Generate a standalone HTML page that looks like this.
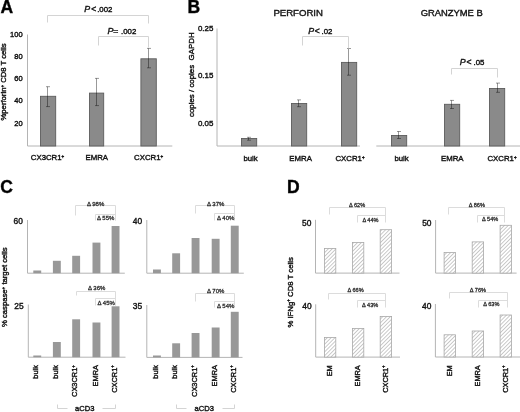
<!DOCTYPE html>
<html><head><meta charset="utf-8"><style>
html,body{margin:0;padding:0;background:#fff;}
body{width:520px;height:412px;overflow:hidden;}
svg{display:block;font-family:"Liberation Sans", sans-serif;filter:grayscale(1);}
text{stroke:#111;stroke-width:.4px;}
</style></head><body>
<svg width="520" height="412" viewBox="0 0 520 412">
<rect width="520" height="412" fill="#fff"/>
<text x="0.6" y="12.6" font-size="17.5" text-anchor="start" font-weight="bold"  fill="#000" >A</text>
<text x="187.6" y="12.6" font-size="17.5" text-anchor="start" font-weight="bold"  fill="#000" >B</text>
<text x="0.2" y="192.6" font-size="17.5" text-anchor="start" font-weight="bold"  fill="#000" >C</text>
<text x="287.0" y="192.7" font-size="17.5" text-anchor="start" font-weight="bold"  fill="#000" >D</text>
<line x1="27.5" y1="34.5" x2="27.5" y2="146" stroke="#b4b4b4" stroke-width="1"/>
<line x1="27.5" y1="146" x2="172.3" y2="146" stroke="#b4b4b4" stroke-width="1"/>
<text x="22.6" y="36.7" font-size="7.5" text-anchor="end" font-weight="normal"  fill="#1a1a1a" >100</text>
<text x="22.6" y="58.7" font-size="7.5" text-anchor="end" font-weight="normal"  fill="#1a1a1a" >80</text>
<text x="22.6" y="81.1" font-size="7.5" text-anchor="end" font-weight="normal"  fill="#1a1a1a" >60</text>
<text x="22.6" y="102.8" font-size="7.5" text-anchor="end" font-weight="normal"  fill="#1a1a1a" >40</text>
<text x="22.6" y="125.8" font-size="7.5" text-anchor="end" font-weight="normal"  fill="#1a1a1a" >20</text>
<rect x="40.5" y="96.3" width="15.2" height="49.7" fill="#8a8a8a" stroke="#5c5c5c" stroke-width="0.9"/>
<path d="M47.5,86.7 V106.6 M46.0,86.7 H50.0 M46.0,106.6 H50.0" stroke="#000" stroke-opacity="0.4" stroke-width="1" fill="none"/>
<rect x="89.5" y="93.1" width="14.2" height="52.900000000000006" fill="#8a8a8a" stroke="#5c5c5c" stroke-width="0.9"/>
<path d="M96.5,78.4 V105.6 M95.0,78.4 H99.0 M95.0,105.6 H99.0" stroke="#000" stroke-opacity="0.4" stroke-width="1" fill="none"/>
<rect x="140.9" y="58.8" width="15.4" height="87.2" fill="#8a8a8a" stroke="#5c5c5c" stroke-width="0.9"/>
<path d="M148.5,48.4 V67.8 M147.0,48.4 H151.0 M147.0,67.8 H151.0" stroke="#000" stroke-opacity="0.4" stroke-width="1" fill="none"/>
<path d="M47.5,22.5 V15.5 H148.5 V23.5" stroke="#d4d4d4" stroke-width="1" fill="none"/>
<path d="M98.5,45.5 V36.5 H148.5 V47.5" stroke="#d4d4d4" stroke-width="1" fill="none"/>
<text x="84.3" y="12.4" font-size="8.8" text-anchor="start" font-weight="normal" font-style="italic" fill="#1a1a1a" >P</text>
<text x="91.3" y="12.1" font-size="8.6" text-anchor="start" font-weight="normal"  fill="#1a1a1a" >&lt;</text>
<text x="112.4" y="12.0" font-size="7.8" text-anchor="end" font-weight="normal"  fill="#1a1a1a" >.002</text>
<text x="107.39999999999999" y="34.3" font-size="8.8" text-anchor="start" font-weight="normal" font-style="italic" fill="#1a1a1a" >P</text>
<text x="113.3" y="34.0" font-size="8.6" text-anchor="start" font-weight="normal"  fill="#1a1a1a" >=</text>
<text x="136.3" y="33.9" font-size="7.8" text-anchor="end" font-weight="normal"  fill="#1a1a1a" >.002</text>
<text x="47.5" y="160.0" font-size="7.8" text-anchor="middle" font-weight="normal"  fill="#1a1a1a" >CX3CR1<tspan font-size="4.5" dy="-2.5">+</tspan><tspan dy="2.5"></tspan></text>
<text x="96.8" y="160.0" font-size="7.8" text-anchor="middle" font-weight="normal"  fill="#1a1a1a" >EMRA</text>
<text x="148.6" y="160.0" font-size="7.8" text-anchor="middle" font-weight="normal"  fill="#1a1a1a" >CXCR1<tspan font-size="4.5" dy="-2.5">+</tspan><tspan dy="2.5"></tspan></text>
<text transform="translate(6.3,120.5) rotate(-90)" font-size="7.7" text-anchor="start" fill="#1a1a1a" >%perforin<tspan font-size="4.5" dy="-2.5">+</tspan><tspan dy="2.5"> </tspan>CD8 T cells</text>
<line x1="217" y1="28.5" x2="217" y2="146" stroke="#b4b4b4" stroke-width="1"/>
<line x1="217" y1="146" x2="360" y2="146" stroke="#b4b4b4" stroke-width="1"/>
<line x1="376.3" y1="146" x2="520" y2="146" stroke="#b4b4b4" stroke-width="1"/>
<text x="213.3" y="31.2" font-size="7.9" text-anchor="end" font-weight="normal"  fill="#1a1a1a" >0.25</text>
<text x="213.3" y="77.8" font-size="7.9" text-anchor="end" font-weight="normal"  fill="#1a1a1a" >0.15</text>
<text x="213.3" y="126.2" font-size="7.9" text-anchor="end" font-weight="normal"  fill="#1a1a1a" >0.05</text>
<rect x="241.5" y="138.5" width="15.2" height="7.5" fill="#8a8a8a" stroke="#5c5c5c" stroke-width="0.9"/>
<path d="M248.5,137.3 V140.2 M247.0,137.3 H251.0 M247.0,140.2 H251.0" stroke="#000" stroke-opacity="0.4" stroke-width="1" fill="none"/>
<rect x="291.5" y="103.5" width="15.2" height="42.5" fill="#8a8a8a" stroke="#5c5c5c" stroke-width="0.9"/>
<path d="M298.5,99.9 V106.7 M297.0,99.9 H301.0 M297.0,106.7 H301.0" stroke="#000" stroke-opacity="0.4" stroke-width="1" fill="none"/>
<rect x="341.5" y="62.4" width="15.2" height="83.6" fill="#8a8a8a" stroke="#5c5c5c" stroke-width="0.9"/>
<path d="M348.5,48.5 V75.2 M347.0,48.5 H351.0 M347.0,75.2 H351.0" stroke="#000" stroke-opacity="0.4" stroke-width="1" fill="none"/>
<rect x="391.5" y="135.5" width="15.2" height="10.5" fill="#8a8a8a" stroke="#5c5c5c" stroke-width="0.9"/>
<path d="M398.5,131.5 V138.5 M397.0,131.5 H401.0 M397.0,138.5 H401.0" stroke="#000" stroke-opacity="0.4" stroke-width="1" fill="none"/>
<rect x="444.5" y="104.3" width="15.2" height="41.7" fill="#8a8a8a" stroke="#5c5c5c" stroke-width="0.9"/>
<path d="M451.5,100.4 V108.5 M450.0,100.4 H454.0 M450.0,108.5 H454.0" stroke="#000" stroke-opacity="0.4" stroke-width="1" fill="none"/>
<rect x="489.5" y="88.5" width="15.2" height="57.5" fill="#8a8a8a" stroke="#5c5c5c" stroke-width="0.9"/>
<path d="M497.5,83.1 V92.3 M496.0,83.1 H500.0 M496.0,92.3 H500.0" stroke="#000" stroke-opacity="0.4" stroke-width="1" fill="none"/>
<text x="273.4" y="15.9" font-size="9.6" text-anchor="start" font-weight="normal"  fill="#1a1a1a" >PERFORIN</text>
<text x="420.7" y="15.9" font-size="9.4" text-anchor="start" font-weight="normal"  fill="#1a1a1a" >GRANZYME B</text>
<path d="M302.5,45.5 V36.5 H348.5 V48.5" stroke="#d4d4d4" stroke-width="1" fill="none"/>
<path d="M451.5,74.5 V68.5 H497.5 V77.5" stroke="#d4d4d4" stroke-width="1" fill="none"/>
<text x="308.20000000000005" y="34.2" font-size="8.8" text-anchor="start" font-weight="normal" font-style="italic" fill="#1a1a1a" >P</text>
<text x="314.8" y="33.900000000000006" font-size="8.6" text-anchor="start" font-weight="normal"  fill="#1a1a1a" >&lt;</text>
<text x="332.4" y="33.800000000000004" font-size="7.8" text-anchor="end" font-weight="normal"  fill="#1a1a1a" >.02</text>
<text x="459.8" y="65.4" font-size="8.8" text-anchor="start" font-weight="normal" font-style="italic" fill="#1a1a1a" >P</text>
<text x="466.40000000000003" y="65.10000000000001" font-size="8.6" text-anchor="start" font-weight="normal"  fill="#1a1a1a" >&lt;</text>
<text x="484.4" y="65.0" font-size="7.8" text-anchor="end" font-weight="normal"  fill="#1a1a1a" >.05</text>
<text x="250.6" y="161.3" font-size="7.8" text-anchor="middle" font-weight="normal"  fill="#1a1a1a" >bulk</text>
<text x="300.6" y="161.3" font-size="7.8" text-anchor="middle" font-weight="normal"  fill="#1a1a1a" >EMRA</text>
<text x="350.0" y="161.3" font-size="7.8" text-anchor="middle" font-weight="normal"  fill="#1a1a1a" >CXCR1<tspan font-size="4.5" dy="-2.5">+</tspan><tspan dy="2.5"></tspan></text>
<text x="401.6" y="161.3" font-size="7.8" text-anchor="middle" font-weight="normal"  fill="#1a1a1a" >bulk</text>
<text x="452.3" y="161.3" font-size="7.8" text-anchor="middle" font-weight="normal"  fill="#1a1a1a" >EMRA</text>
<text x="502.0" y="161.3" font-size="7.8" text-anchor="middle" font-weight="normal"  fill="#1a1a1a" >CXCR1<tspan font-size="4.5" dy="-2.5">+</tspan><tspan dy="2.5"></tspan></text>
<text transform="translate(193.8,117.0) rotate(-90)" font-size="7.9" text-anchor="start" fill="#1a1a1a" >copies / copies&#160; GAPDH</text>
<line x1="27.5" y1="220" x2="27.5" y2="273.2" stroke="#b4b4b4" stroke-width="1"/>
<line x1="27.5" y1="273.2" x2="124.8" y2="273.2" stroke="#b4b4b4" stroke-width="1"/>
<text x="22.9" y="223.7" font-size="8.4" text-anchor="end" font-weight="normal"  fill="#1a1a1a" >60</text>
<rect x="33.3" y="270.5" width="7.9" height="2.6999999999999886" fill="#989898" stroke="none" stroke-width="1"/>
<rect x="52.9" y="260.8" width="7.9" height="12.399999999999977" fill="#989898" stroke="none" stroke-width="1"/>
<rect x="72.2" y="255.8" width="7.9" height="17.399999999999977" fill="#989898" stroke="none" stroke-width="1"/>
<rect x="92.5" y="242.6" width="7.9" height="30.599999999999994" fill="#989898" stroke="none" stroke-width="1"/>
<rect x="111.6" y="226.0" width="7.9" height="47.19999999999999" fill="#989898" stroke="none" stroke-width="1"/>
<line x1="146.8" y1="220" x2="146.8" y2="273.2" stroke="#b4b4b4" stroke-width="1"/>
<line x1="146.8" y1="273.2" x2="243.8" y2="273.2" stroke="#b4b4b4" stroke-width="1"/>
<text x="142.20000000000002" y="223.6" font-size="8.4" text-anchor="end" font-weight="normal"  fill="#1a1a1a" >40</text>
<rect x="153.0" y="269.5" width="7.9" height="3.6999999999999886" fill="#989898" stroke="none" stroke-width="1"/>
<rect x="172.2" y="253.3" width="7.9" height="19.899999999999977" fill="#989898" stroke="none" stroke-width="1"/>
<rect x="191.6" y="238.0" width="7.9" height="35.19999999999999" fill="#989898" stroke="none" stroke-width="1"/>
<rect x="211.7" y="238.8" width="7.9" height="34.39999999999998" fill="#989898" stroke="none" stroke-width="1"/>
<rect x="230.8" y="225.7" width="7.9" height="47.5" fill="#989898" stroke="none" stroke-width="1"/>
<line x1="28.3" y1="304.5" x2="28.3" y2="357.2" stroke="#b4b4b4" stroke-width="1"/>
<line x1="28.3" y1="357.2" x2="125.5" y2="357.2" stroke="#b4b4b4" stroke-width="1"/>
<text x="23.700000000000003" y="308.59999999999997" font-size="8.4" text-anchor="end" font-weight="normal"  fill="#1a1a1a" >25</text>
<rect x="33.3" y="355.5" width="7.9" height="1.6999999999999886" fill="#989898" stroke="none" stroke-width="1"/>
<rect x="52.9" y="342.0" width="7.9" height="15.199999999999989" fill="#989898" stroke="none" stroke-width="1"/>
<rect x="72.2" y="319.3" width="7.9" height="37.89999999999998" fill="#989898" stroke="none" stroke-width="1"/>
<rect x="92.5" y="322.5" width="7.9" height="34.69999999999999" fill="#989898" stroke="none" stroke-width="1"/>
<rect x="111.6" y="306.3" width="7.9" height="50.89999999999998" fill="#989898" stroke="none" stroke-width="1"/>
<line x1="146.8" y1="305" x2="146.8" y2="357.4" stroke="#b4b4b4" stroke-width="1"/>
<line x1="146.8" y1="357.4" x2="242.5" y2="357.4" stroke="#b4b4b4" stroke-width="1"/>
<text x="142.20000000000002" y="308.59999999999997" font-size="8.4" text-anchor="end" font-weight="normal"  fill="#1a1a1a" >35</text>
<rect x="153.0" y="355.5" width="7.9" height="1.8999999999999773" fill="#989898" stroke="none" stroke-width="1"/>
<rect x="172.2" y="343.3" width="7.9" height="14.099999999999966" fill="#989898" stroke="none" stroke-width="1"/>
<rect x="191.6" y="333.0" width="7.9" height="24.399999999999977" fill="#989898" stroke="none" stroke-width="1"/>
<rect x="211.7" y="327.5" width="7.9" height="29.899999999999977" fill="#989898" stroke="none" stroke-width="1"/>
<rect x="230.8" y="311.8" width="7.9" height="45.599999999999966" fill="#989898" stroke="none" stroke-width="1"/>
<path d="M75.5,215.5 V205.5 H115.5 V220.5" stroke="#dcdcdc" stroke-width="1" fill="none"/>
<text x="86.9" y="205.6" font-size="6" text-anchor="start" font-weight="normal"  fill="#2a2a2a" style="stroke-width:0.26px;stroke:#2a2a2a">&#916; 98%</text>
<path d="M95.5,220.5 V214.5 H115.5 V220.5" stroke="#dcdcdc" stroke-width="1" fill="none"/>
<text x="97.0" y="219.9" font-size="6" text-anchor="start" font-weight="normal"  fill="#2a2a2a" style="stroke-width:0.26px;stroke:#2a2a2a">&#916; 55%</text>
<path d="M195.5,213.5 V205.5 H234.5 V220.5" stroke="#dcdcdc" stroke-width="1" fill="none"/>
<text x="207.0" y="205.6" font-size="6" text-anchor="start" font-weight="normal"  fill="#2a2a2a" style="stroke-width:0.26px;stroke:#2a2a2a">&#916; 37%</text>
<path d="M214.5,220.5 V213.5 H234.5 V220.5" stroke="#dcdcdc" stroke-width="1" fill="none"/>
<text x="217.0" y="220.0" font-size="6" text-anchor="start" font-weight="normal"  fill="#2a2a2a" style="stroke-width:0.26px;stroke:#2a2a2a">&#916; 40%</text>
<path d="M76.5,295.5 V291.5 H115.5 V305.5" stroke="#dcdcdc" stroke-width="1" fill="none"/>
<text x="88.0" y="290.0" font-size="6" text-anchor="start" font-weight="normal"  fill="#2a2a2a" style="stroke-width:0.26px;stroke:#2a2a2a">&#916; 36%</text>
<path d="M95.5,305.5 V298.5 H115.5 V305.5" stroke="#dcdcdc" stroke-width="1" fill="none"/>
<text x="97.5" y="304.5" font-size="6" text-anchor="start" font-weight="normal"  fill="#2a2a2a" style="stroke-width:0.26px;stroke:#2a2a2a">&#916; 45%</text>
<path d="M195.5,301.5 V293.5 H234.5 V305.5" stroke="#dcdcdc" stroke-width="1" fill="none"/>
<text x="207.0" y="293.4" font-size="6" text-anchor="start" font-weight="normal"  fill="#2a2a2a" style="stroke-width:0.26px;stroke:#2a2a2a">&#916; 70%</text>
<path d="M214.5,307.5 V301.5 H234.5 V307.5" stroke="#dcdcdc" stroke-width="1" fill="none"/>
<text x="217.0" y="307.5" font-size="6" text-anchor="start" font-weight="normal"  fill="#2a2a2a" style="stroke-width:0.26px;stroke:#2a2a2a">&#916; 54%</text>
<text transform="translate(38.4,365.1) rotate(-90)" font-size="7.4" text-anchor="end" fill="#1a1a1a" >bulk</text>
<text transform="translate(58.0,365.1) rotate(-90)" font-size="7.4" text-anchor="end" fill="#1a1a1a" >bulk</text>
<text transform="translate(77.3,365.1) rotate(-90)" font-size="7.4" text-anchor="end" fill="#1a1a1a" >CX3CR1<tspan font-size="4.5" dy="-2.5">+</tspan><tspan dy="2.5"></tspan></text>
<text transform="translate(97.6,365.1) rotate(-90)" font-size="7.4" text-anchor="end" fill="#1a1a1a" >EMRA</text>
<text transform="translate(116.69999999999999,365.1) rotate(-90)" font-size="7.4" text-anchor="end" fill="#1a1a1a" >CXCR1<tspan font-size="4.5" dy="-2.5">+</tspan><tspan dy="2.5"></tspan></text>
<text transform="translate(158.1,365.1) rotate(-90)" font-size="7.4" text-anchor="end" fill="#1a1a1a" >bulk</text>
<text transform="translate(177.29999999999998,365.1) rotate(-90)" font-size="7.4" text-anchor="end" fill="#1a1a1a" >bulk</text>
<text transform="translate(196.7,365.1) rotate(-90)" font-size="7.4" text-anchor="end" fill="#1a1a1a" >CX3CR1<tspan font-size="4.5" dy="-2.5">+</tspan><tspan dy="2.5"></tspan></text>
<text transform="translate(216.79999999999998,365.1) rotate(-90)" font-size="7.4" text-anchor="end" fill="#1a1a1a" >EMRA</text>
<text transform="translate(235.9,365.1) rotate(-90)" font-size="7.4" text-anchor="end" fill="#1a1a1a" >CXCR1<tspan font-size="4.5" dy="-2.5">+</tspan><tspan dy="2.5"></tspan></text>
<path d="M57.5,404.5 V408.5 H67.5" stroke="#d4d4d4" stroke-width="1" fill="none"/>
<path d="M102.5,408.5 H115.5 V404.5" stroke="#d4d4d4" stroke-width="1" fill="none"/>
<text x="84.8" y="411.0" font-size="7.6" text-anchor="middle" font-weight="normal"  fill="#1a1a1a" >aCD3</text>
<path d="M176.5,404.5 V408.5 H186.5" stroke="#d4d4d4" stroke-width="1" fill="none"/>
<path d="M222.5,408.5 H234.5 V404.5" stroke="#d4d4d4" stroke-width="1" fill="none"/>
<text x="204.3" y="411.0" font-size="7.6" text-anchor="middle" font-weight="normal"  fill="#1a1a1a" >aCD3</text>
<text transform="translate(7.0,327.0) rotate(-90)" font-size="7.7" text-anchor="start" fill="#1a1a1a" >% caspase<tspan font-size="4.5" dy="-2.5">+</tspan><tspan dy="2.5"> </tspan>target cells</text>
<defs><pattern id="h" patternUnits="userSpaceOnUse" width="2.7" height="2.7" patternTransform="rotate(45)"><rect width="2.7" height="2.7" fill="#fff"/><line x1="0" y1="0" x2="0" y2="2.7" stroke="#969696" stroke-width="1"/></pattern></defs>
<line x1="315.5" y1="219.8" x2="315.5" y2="273.1" stroke="#b4b4b4" stroke-width="1"/>
<line x1="315.5" y1="273.1" x2="399.5" y2="273.1" stroke="#b4b4b4" stroke-width="1"/>
<text x="311.4" y="225.5" font-size="8.4" text-anchor="end" font-weight="normal"  fill="#1a1a1a" >50</text>
<rect x="324.4" y="248.4" width="11.4" height="24.700000000000024" fill="url(#h)" stroke="#a8a8a8" stroke-width="0.8"/>
<rect x="352.4" y="242.5" width="11.4" height="30.60000000000003" fill="url(#h)" stroke="#a8a8a8" stroke-width="0.8"/>
<rect x="380.2" y="229.70000000000002" width="11.4" height="43.40000000000001" fill="url(#h)" stroke="#a8a8a8" stroke-width="0.8"/>
<line x1="435.6" y1="220.0" x2="435.6" y2="273.1" stroke="#b4b4b4" stroke-width="1"/>
<line x1="435.6" y1="273.1" x2="516.6" y2="273.1" stroke="#b4b4b4" stroke-width="1"/>
<text x="431.5" y="225.5" font-size="8.4" text-anchor="end" font-weight="normal"  fill="#1a1a1a" >50</text>
<rect x="444.09999999999997" y="252.5" width="11.4" height="20.60000000000003" fill="url(#h)" stroke="#a8a8a8" stroke-width="0.8"/>
<rect x="472.2" y="241.9" width="11.4" height="31.200000000000024" fill="url(#h)" stroke="#a8a8a8" stroke-width="0.8"/>
<rect x="500.09999999999997" y="225.3" width="11.4" height="47.80000000000002" fill="url(#h)" stroke="#a8a8a8" stroke-width="0.8"/>
<line x1="315.7" y1="304.3" x2="315.7" y2="357.1" stroke="#b4b4b4" stroke-width="1"/>
<line x1="315.7" y1="357.1" x2="400.0" y2="357.1" stroke="#b4b4b4" stroke-width="1"/>
<text x="311.59999999999997" y="309.3" font-size="8.4" text-anchor="end" font-weight="normal"  fill="#1a1a1a" >40</text>
<rect x="324.4" y="337.5" width="11.4" height="19.6" fill="url(#h)" stroke="#a8a8a8" stroke-width="0.8"/>
<rect x="352.4" y="328.5" width="11.4" height="28.6" fill="url(#h)" stroke="#a8a8a8" stroke-width="0.8"/>
<rect x="380.2" y="316.4" width="11.4" height="40.700000000000024" fill="url(#h)" stroke="#a8a8a8" stroke-width="0.8"/>
<line x1="435.4" y1="304.0" x2="435.4" y2="357.0" stroke="#b4b4b4" stroke-width="1"/>
<line x1="435.4" y1="357.0" x2="520.0" y2="357.0" stroke="#b4b4b4" stroke-width="1"/>
<text x="431.29999999999995" y="309.2" font-size="8.4" text-anchor="end" font-weight="normal"  fill="#1a1a1a" >40</text>
<rect x="444.09999999999997" y="334.79999999999995" width="11.4" height="22.200000000000024" fill="url(#h)" stroke="#a8a8a8" stroke-width="0.8"/>
<rect x="472.2" y="331.0" width="11.4" height="25.99999999999998" fill="url(#h)" stroke="#a8a8a8" stroke-width="0.8"/>
<rect x="500.09999999999997" y="315.0" width="11.4" height="41.99999999999998" fill="url(#h)" stroke="#a8a8a8" stroke-width="0.8"/>
<path d="M329.5,214.5 V207.5 H385.5 V216.5" stroke="#dcdcdc" stroke-width="1" fill="none"/>
<text x="349.0" y="207.0" font-size="5.6" text-anchor="start" font-weight="normal"  fill="#2a2a2a" style="stroke-width:0.26px;stroke:#2a2a2a">&#916; 62%</text>
<path d="M357.5,222.5 V215.5 H385.5 V222.5" stroke="#dcdcdc" stroke-width="1" fill="none"/>
<text x="362.4" y="221.7" font-size="5.6" text-anchor="start" font-weight="normal"  fill="#2a2a2a" style="stroke-width:0.26px;stroke:#2a2a2a">&#916; 44%</text>
<path d="M448.5,214.5 V207.5 H504.5 V216.5" stroke="#dcdcdc" stroke-width="1" fill="none"/>
<text x="468.7" y="206.7" font-size="5.6" text-anchor="start" font-weight="normal"  fill="#2a2a2a" style="stroke-width:0.26px;stroke:#2a2a2a">&#916; 86%</text>
<path d="M477.5,222.5 V215.5 H504.5 V222.5" stroke="#dcdcdc" stroke-width="1" fill="none"/>
<text x="482.1" y="221.3" font-size="5.6" text-anchor="start" font-weight="normal"  fill="#2a2a2a" style="stroke-width:0.26px;stroke:#2a2a2a">&#916; 54%</text>
<path d="M328.5,299.5 V293.5 H385.5 V301.5" stroke="#dcdcdc" stroke-width="1" fill="none"/>
<text x="347.5" y="292.1" font-size="5.6" text-anchor="start" font-weight="normal"  fill="#2a2a2a" style="stroke-width:0.26px;stroke:#2a2a2a">&#916; 66%</text>
<path d="M357.5,307.5 V300.5 H385.5 V307.5" stroke="#dcdcdc" stroke-width="1" fill="none"/>
<text x="362.1" y="306.6" font-size="5.6" text-anchor="start" font-weight="normal"  fill="#2a2a2a" style="stroke-width:0.26px;stroke:#2a2a2a">&#916; 43%</text>
<path d="M449.5,298.5 V292.5 H507.5 V301.5" stroke="#dcdcdc" stroke-width="1" fill="none"/>
<text x="469.8" y="291.8" font-size="5.6" text-anchor="start" font-weight="normal"  fill="#2a2a2a" style="stroke-width:0.26px;stroke:#2a2a2a">&#916; 76%</text>
<path d="M478.5,307.5 V300.5 H507.5 V307.5" stroke="#dcdcdc" stroke-width="1" fill="none"/>
<text x="483.2" y="306.2" font-size="5.6" text-anchor="start" font-weight="normal"  fill="#2a2a2a" style="stroke-width:0.26px;stroke:#2a2a2a">&#916; 63%</text>
<text transform="translate(331.9,365.3) rotate(-90)" font-size="7.3" text-anchor="end" fill="#1a1a1a" >EM</text>
<text transform="translate(359.9,365.3) rotate(-90)" font-size="7.3" text-anchor="end" fill="#1a1a1a" >EMRA</text>
<text transform="translate(387.7,365.3) rotate(-90)" font-size="7.3" text-anchor="end" fill="#1a1a1a" >CXCR1<tspan font-size="4.5" dy="-2.5">+</tspan><tspan dy="2.5"></tspan></text>
<text transform="translate(451.59999999999997,365.3) rotate(-90)" font-size="7.3" text-anchor="end" fill="#1a1a1a" >EM</text>
<text transform="translate(479.7,365.3) rotate(-90)" font-size="7.3" text-anchor="end" fill="#1a1a1a" >EMRA</text>
<text transform="translate(507.59999999999997,365.3) rotate(-90)" font-size="7.3" text-anchor="end" fill="#1a1a1a" >CXCR1<tspan font-size="4.5" dy="-2.5">+</tspan><tspan dy="2.5"></tspan></text>
<text transform="translate(292.9,327.6) rotate(-90)" font-size="7.75" text-anchor="start" fill="#1a1a1a" >% IFNg<tspan font-size="4.5" dy="-2.5">+</tspan><tspan dy="2.5"> </tspan>CD8 T cells</text>
</svg>
</body></html>
